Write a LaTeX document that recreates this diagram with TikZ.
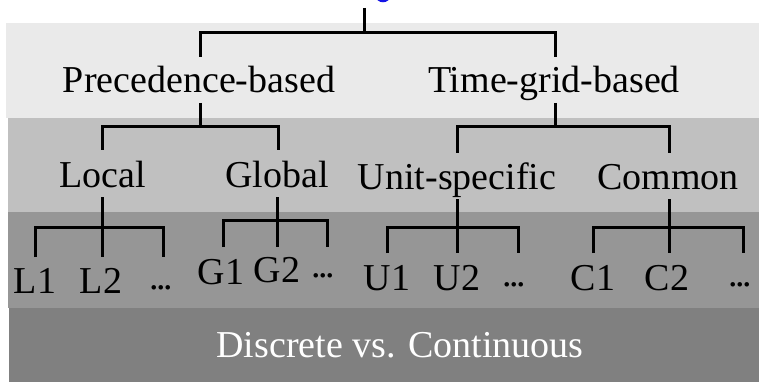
\documentclass[tikz,border=0pt]{standalone}
\usepackage{fontspec}
\setmainfont{Liberation Serif}
\definecolor{bandA}{RGB}{234,234,234}
\definecolor{bandB}{RGB}{192,192,192}
\definecolor{bandC}{RGB}{150,150,150}
\definecolor{bandD}{RGB}{128,128,128}
\definecolor{topblue}{RGB}{20,20,230}
% tight three-dot ellipsis
\newcommand\tridots{.\kern-2.6pt.\kern-2.6pt.}
\begin{document}
\begin{tikzpicture}[x=1pt,y=-1pt,
  lbl/.style={anchor=base, inner sep=0pt, font=\fontsize{38}{40}\selectfont},
  link/.style={line width=3pt, line join=miter, line cap=butt, black}]
\useasboundingbox (0,0) rectangle (759,382);
\fill[white] (0,0) rectangle (759,382);
% background bands
\fill[bandA] (6,23) rectangle (759,118);
\fill[bandB] (8,118) rectangle (759,212);
\fill[bandC] (8,212) rectangle (759,308);
\fill[bandD] (9,308) rectangle (759,382);
% lower edge of the heading glyph above
\begin{scope}
  \clip (0,0) rectangle (759,382);
  \draw[topblue, line width=2.5pt] (383,-4) ellipse (6 and 5);
\end{scope}

% labels
\node[lbl] (P) at (199,93) {Precedence-based};
\node[lbl] (T) at (554,93) {Time-grid-based};
\node[lbl] (L) at (103,187) {Local};
\node[lbl] (G) at (277,187) {Global};
\node[lbl] (U) at (457,189) {Unit-specific};
\node[lbl] (C) at (668,189) {Common};
\node[lbl] (L1) at (35,293) {L1};
\node[lbl] (L2) at (101,293) {L2};
\node[lbl] (L3) at (161,289) {\tridots};
\node[lbl] (G1) at (221,284) {G1};
\node[lbl] (G2) at (277,282) {G2};
\node[lbl] (G3) at (323,277) {\tridots};
\node[lbl] (U1) at (387,290) {U1};
\node[lbl] (U2) at (457,290) {U2};
\node[lbl] (U3) at (514,286) {\tridots};
\node[lbl] (C1) at (593,290) {C1};
\node[lbl] (C2) at (667,290) {C2};
\node[lbl] (C3) at (740,286) {\tridots};
\node[lbl, white] (D) at (400,357) {Discrete vs. Continuous};

% connector points
\coordinate (R0) at (364,8);   \coordinate (Rj) at (364,33);
\coordinate (Pt) at (200,57);  \coordinate (Tt) at (555,57);
\coordinate (Pb) at (200,103); \coordinate (Pj) at (200,127);
\coordinate (Tb) at (555,103); \coordinate (Tj) at (555,127);
\coordinate (Lt) at (102,150); \coordinate (Gt) at (278,150);
\coordinate (Ut) at (457,153); \coordinate (Ct) at (669,153);
\coordinate (Lb) at (102,197); \coordinate (Lj) at (102,227);
\coordinate (Gb) at (277,197); \coordinate (Gj) at (277,220);
\coordinate (Ub) at (457,199); \coordinate (Uj) at (457,227);
\coordinate (Cb) at (669,199); \coordinate (Cj) at (669,227);
\coordinate (L1t) at (35,257);  \coordinate (L2t) at (102,257); \coordinate (L3t) at (163,257);
\coordinate (G1t) at (223,247); \coordinate (G2t) at (277,247); \coordinate (G3t) at (327,247);
\coordinate (U1t) at (387,253); \coordinate (U2t) at (457,253); \coordinate (U3t) at (518,253);
\coordinate (C1t) at (593,253); \coordinate (C2t) at (669,253); \coordinate (C3t) at (743,253);

% tree connectors
\draw[link] (R0) -- (Rj);
\draw[link] (Pt) |- (Rj) -| (Tt);
\draw[link] (Pb) -- (Pj);
\draw[link] (Lt) |- (Pj) -| (Gt);
\draw[link] (Tb) -- (Tj);
\draw[link] (Ut) |- (Tj) -| (Ct);
\draw[link] (Lb) -- (L2t);
\draw[link] (L1t) |- (Lj) -| (L3t);
\draw[link] (Gb) -- (G2t);
\draw[link] (G1t) |- (Gj) -| (G3t);
\draw[link] (Ub) -- (U2t);
\draw[link] (U1t) |- (Uj) -| (U3t);
\draw[link] (Cb) -- (C2t);
\draw[link] (C1t) |- (Cj) -| (C3t);
\end{tikzpicture}
\end{document}
